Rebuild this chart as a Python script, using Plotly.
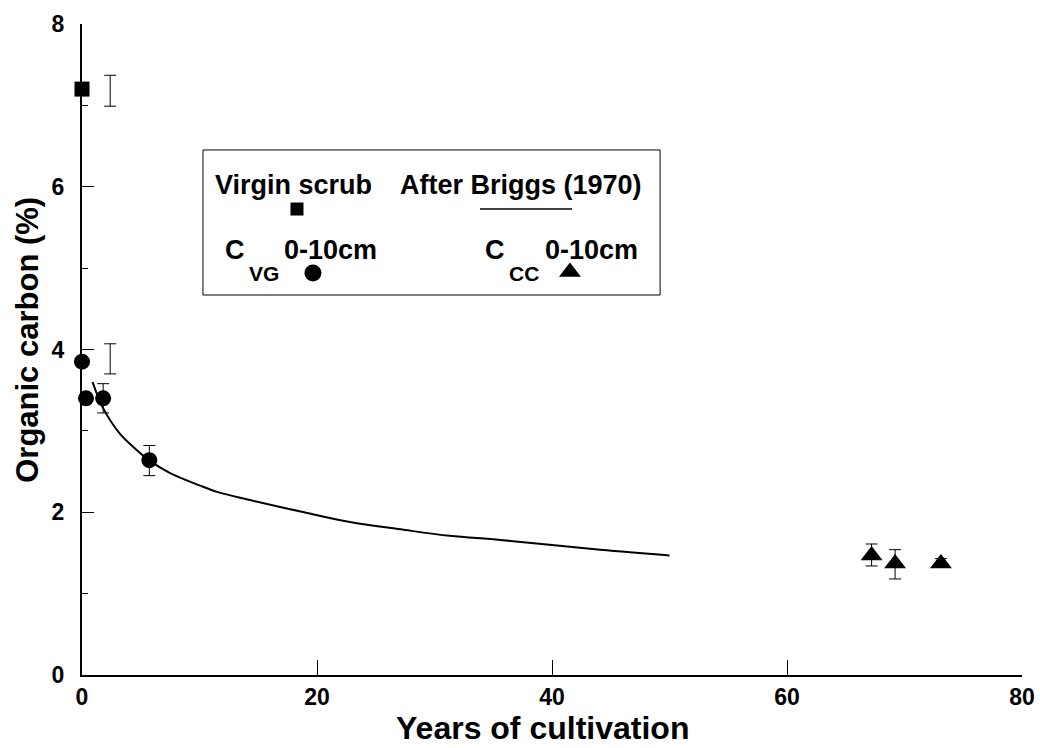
import plotly.graph_objects as go

# ---------------- data ----------------
scrub_x = [0.0]
scrub_y = [7.2]

vg_x = [0.0, 0.34, 1.8, 5.73]
vg_y = [3.85, 3.40, 3.40, 2.64]
vg_err_plus = [0.0, 0.0, 0.18, 0.18]
vg_err_minus = [0.0, 0.0, 0.18, 0.19]

cc_x = [67.2, 69.2, 73.1]
cc_y = [1.47, 1.37, 1.37]
cc_err_plus = [0.14, 0.17, 0.06]
cc_err_minus = [0.13, 0.19, 0.0]

# stand-alone error bars drawn beside the x=0 points
sep_err_x = [2.4, 2.4]
sep_err_y = [7.18, 3.885]
sep_err = [0.19, 0.185]

# Briggs (1970) curve
briggs_x = [0.9, 1.8, 3.2, 4.7, 5.7, 7.5, 10.0, 11.5, 14.3, 18.6, 22.8, 27.1, 31.3, 35.6, 44.1, 50.0]
briggs_y = [3.60, 3.28, 2.97, 2.76, 2.64, 2.48, 2.33, 2.25, 2.15, 2.01, 1.88, 1.79, 1.71, 1.66, 1.54, 1.47]

x_ticks = [0, 20, 40, 60, 80]
y_ticks = [0, 2, 4, 6, 8]

FONT = "Liberation Sans"
BLACK = "#000000"

fig = go.Figure()

fig.add_trace(go.Scatter(x=briggs_x, y=briggs_y, mode="lines",
                         line=dict(color=BLACK, width=2, shape="spline"),
                         showlegend=False, hoverinfo="skip"))

fig.add_trace(go.Scatter(x=sep_err_x, y=sep_err_y, mode="markers",
                         marker=dict(size=1, opacity=0),
                         error_y=dict(type="data", array=sep_err, color=BLACK,
                                      thickness=1, width=6),
                         showlegend=False, cliponaxis=False))

fig.add_trace(go.Scatter(x=scrub_x, y=scrub_y, mode="markers",
                         marker=dict(symbol="square", size=15, color=BLACK),
                         showlegend=False, cliponaxis=False))

fig.add_trace(go.Scatter(x=vg_x, y=vg_y, mode="markers",
                         marker=dict(symbol="circle", size=16, color=BLACK),
                         error_y=dict(type="data", symmetric=False,
                                      array=vg_err_plus, arrayminus=vg_err_minus,
                                      color=BLACK, thickness=1, width=6),
                         showlegend=False, cliponaxis=False))

fig.add_trace(go.Scatter(x=cc_x, y=cc_y, mode="markers",
                         marker=dict(symbol="triangle-up", size=19, color=BLACK),
                         error_y=dict(type="data", symmetric=False,
                                      array=cc_err_plus, arrayminus=cc_err_minus,
                                      color=BLACK, thickness=1, width=6),
                         showlegend=False, cliponaxis=False))

# legend key symbols on an invisible overlay axis (0..1 = plot area)
key_x = [0.2287, 0.2457, 0.5191]
key_y = [0.7158, 0.6175, 0.619]
key_sym = ["square", "circle", "triangle-up"]
key_size = [13, 17, 19]
fig.add_trace(go.Scatter(x=key_x, y=key_y, mode="markers", xaxis="x2", yaxis="y2",
                         marker=dict(symbol=key_sym, size=key_size, color=BLACK,
                                     opacity=1, line=dict(width=0)),
                         showlegend=False, hoverinfo="skip"))

tickfont = dict(family=FONT, size=23, color=BLACK)

fig.update_layout(
    width=1040, height=748,
    margin=dict(l=82, r=18, t=24, b=73, autoexpand=False),
    paper_bgcolor="white", plot_bgcolor="white",
    showlegend=False,
    xaxis=dict(range=[0, 80], tickvals=x_ticks,
               ticktext=[f"<b>{v}</b>" for v in x_ticks],
               ticks="inside", ticklen=15,
               tickwidth=1, tickcolor=BLACK, showline=True, linecolor=BLACK,
               linewidth=2, showgrid=False, zeroline=False, tickfont=tickfont,
               ticklabelstandoff=0),
    yaxis=dict(range=[0, 8], tickvals=y_ticks,
               ticktext=[f"<b>{v}</b>" for v in y_ticks],
               ticks="inside", ticklen=12,
               tickwidth=1, tickcolor=BLACK, showline=True, linecolor=BLACK,
               linewidth=2, showgrid=False, zeroline=False, tickfont=tickfont,
               ticklabelstandoff=11,
               minor=dict(tickvals=[1, 3, 5, 7], ticks="inside", ticklen=6,
                          tickwidth=1, tickcolor=BLACK)),
    xaxis2=dict(range=[0, 1], overlaying="x", visible=False, fixedrange=True),
    yaxis2=dict(range=[0, 1], overlaying="y", visible=False, fixedrange=True),
)

# legend box and curve sample
fig.add_shape(type="rect", xref="paper", yref="paper", layer="below",
              x0=0.1287, x1=0.615, y0=0.5837, y1=0.8065,
              line=dict(color=BLACK, width=1), fillcolor="rgba(0,0,0,0)")
fig.add_shape(type="line", xref="paper", yref="paper",
              x0=0.4234, x1=0.5213, y0=0.7158, y1=0.7158,
              line=dict(color=BLACK, width=1.5))

def ann(text, x, y, size, xanchor="left", angle=0, yanchor="middle"):
    fig.add_annotation(text=f"<b>{text}</b>", x=x, y=y, xref="paper", yref="paper",
                       xanchor=xanchor, yanchor=yanchor, showarrow=False,
                       textangle=angle,
                       font=dict(family=FONT, size=size, color=BLACK))

ann("Virgin scrub", 0.1394, 0.7527, 27)
ann("After Briggs (1970)", 0.3362, 0.7527, 27)
ann("C", 0.150, 0.6528, 27)
ann("VG", 0.1755, 0.6175, 21)
ann("0-10cm", 0.2128, 0.6528, 27)
ann("C", 0.4266, 0.6528, 27)
ann("CC", 0.4521, 0.6175, 21)
ann("0-10cm", 0.4904, 0.6528, 27)

ann("Years of cultivation", 0.4904, -0.1118, 32, xanchor="center", yanchor="bottom")
ann("Organic carbon (%)", -0.0574, 0.515, 31, xanchor="center", angle=-90)

fig.write_html("out.html", config={"displayModeBar": False},
               post_script="document.body.style.margin='0';document.body.style.padding='0';")
